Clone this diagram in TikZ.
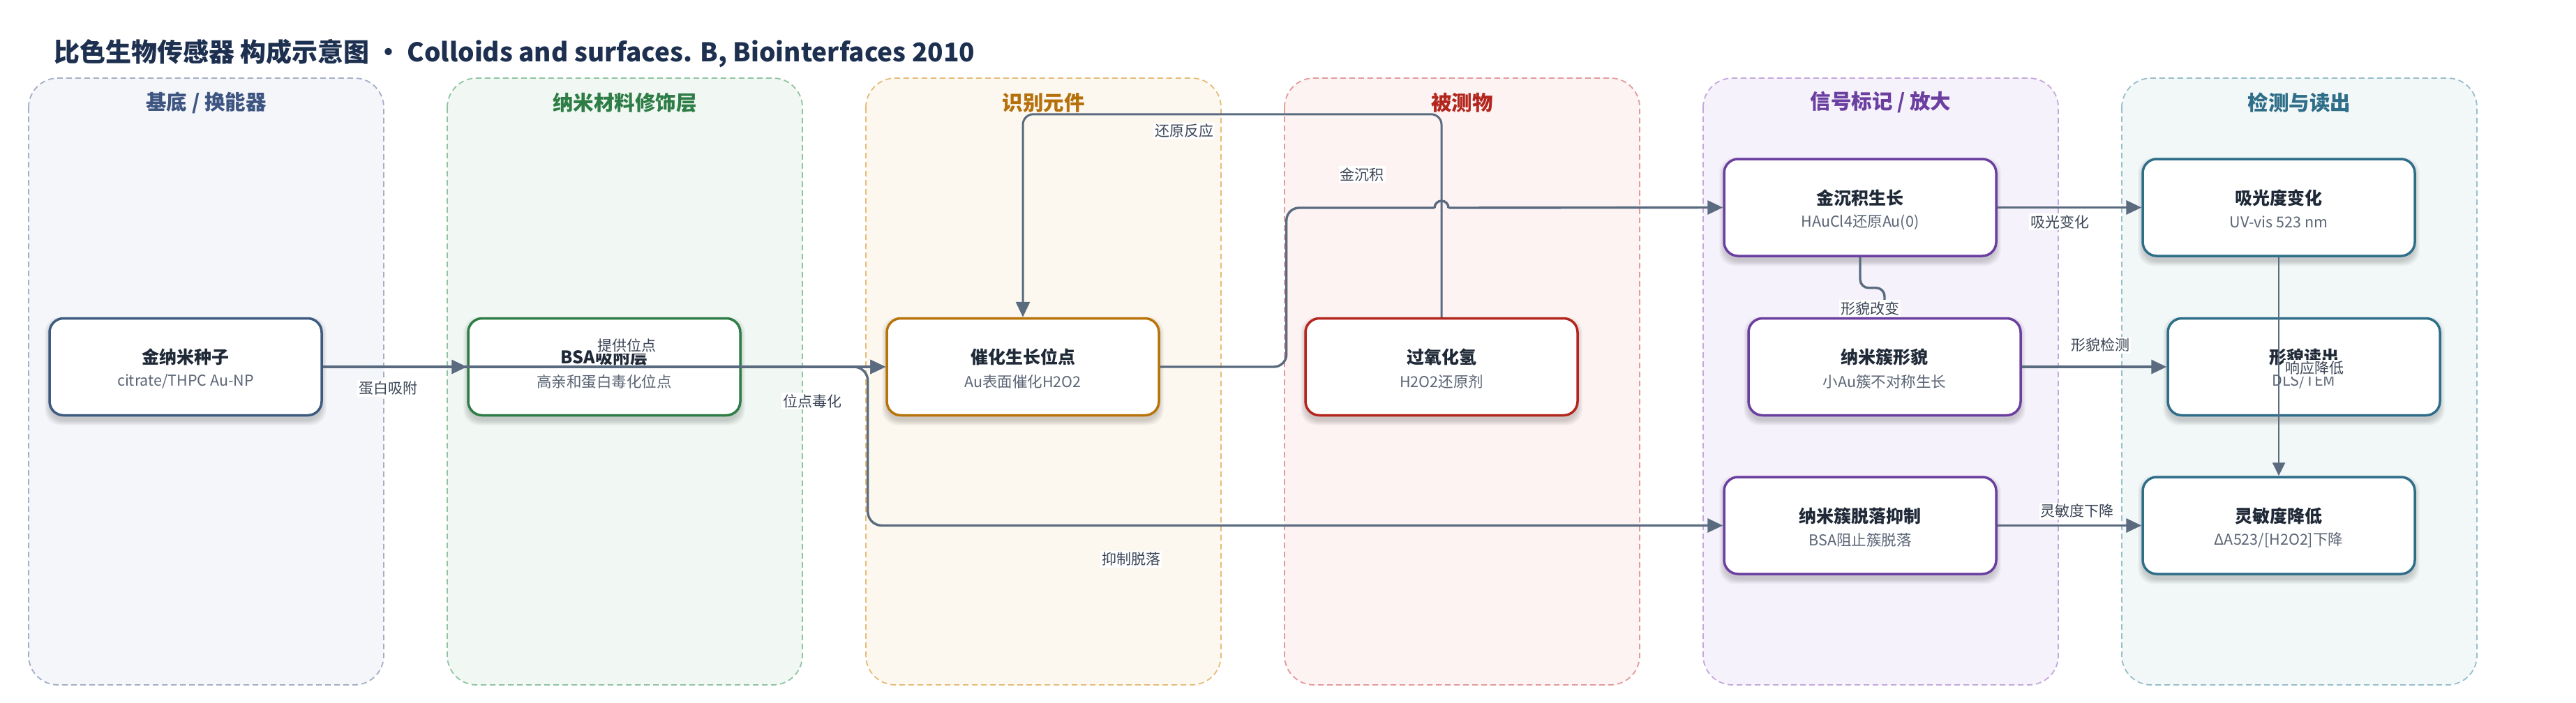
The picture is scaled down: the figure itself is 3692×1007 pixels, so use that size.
\documentclass[tikz,border=0pt]{standalone}
\usepackage{fontspec}
\setmainfont{Noto Sans CJK SC}
\usetikzlibrary{arrows.meta}
\definecolor{titlec}{HTML}{1E3050}
\definecolor{edgec}{HTML}{5A6B80}
\definecolor{lblc}{HTML}{3C4656}
\definecolor{ttlc}{HTML}{1F2937}
\definecolor{subc}{HTML}{5B6575}
\definecolor{laAfill}{HTML}{F4F6FA}\definecolor{laAline}{HTML}{A3AFC6}\definecolor{laAtext}{HTML}{3D5580}\definecolor{bxA}{HTML}{3D5A80}
\definecolor{laBfill}{HTML}{F1F8F3}\definecolor{laBline}{HTML}{90C4A0}\definecolor{laBtext}{HTML}{2E7D46}\definecolor{bxB}{HTML}{2E7D46}
\definecolor{laCfill}{HTML}{FDF8EF}\definecolor{laCline}{HTML}{E4BC78}\definecolor{laCtext}{HTML}{B5700C}\definecolor{bxC}{HTML}{B8730A}
\definecolor{laDfill}{HTML}{FDF3F3}\definecolor{laDline}{HTML}{E39A9A}\definecolor{laDtext}{HTML}{B3261E}\definecolor{bxD}{HTML}{B3261E}
\definecolor{laEfill}{HTML}{F6F2FB}\definecolor{laEline}{HTML}{C4A8DC}\definecolor{laEtext}{HTML}{6B3FA0}\definecolor{bxE}{HTML}{6B3FA0}
\definecolor{laFfill}{HTML}{F2F7F8}\definecolor{laFline}{HTML}{98BECC}\definecolor{laFtext}{HTML}{2F6E89}\definecolor{bxF}{HTML}{2F6E89}
\newcommand\mkbox[6]{%
  \foreach \k in {1,...,8}{\fill[black,opacity=0.025,rounded corners=22pt] (#2-194-\k,#3-64-\k) rectangle (#2+194+\k,#3+76+\k);}
  \node[procbox,draw=#4] (#1) at (#2,#3) {};
  \node[ttl] (#1t) at ([yshift=14pt]#1.center) {#5};
  \node[sub] (#1s) at ([yshift=-21pt]#1.center) {#6};
}
\newcommand\mklane[4]{% name, x-left, colour key, title
  \draw[lanebox,fill=la#3fill,draw=la#3line] (#2,112) rectangle (#2+509,982);
  \node[lanettl,text=la#3text] (#1) at (#2+254.5,147) {#4};
}
\begin{document}
\begin{tikzpicture}[x=1pt,y=-1pt,
  lanebox/.style={rounded corners=42pt,dash pattern=on 8pt off 5pt,line width=1.8pt},
  lanettl/.style={font=\bfseries\fontsize{29.5pt}{34pt}\selectfont,inner sep=0pt},
  procbox/.style={rectangle,fill=white,rounded corners=20pt,minimum width=390pt,minimum height=139pt,line width=3.5pt,inner sep=0pt},
  ttl/.style={font=\bfseries\fontsize{25pt}{30pt}\selectfont,text=ttlc,inner sep=0pt},
  sub/.style={font=\fontsize{21.5pt}{26pt}\selectfont,text=subc,inner sep=0pt},
  edge/.style={draw=edgec,line width=3.4pt},
  arr/.style={-{Triangle[length=22pt,width=20pt]}},
  lbl/.style={fill=white,inner sep=2pt,font=\fontsize{21pt}{25pt}\selectfont,text=lblc}]
\path[use as bounding box,fill=white] (0,0) rectangle (3692,1007);
\node[anchor=west,font=\bfseries\fontsize{37pt}{44pt}\selectfont,text=titlec,inner sep=0pt] (title) at (77,77) {比色生物传感器 构成示意图 · Colloids and surfaces. B, Biointerfaces 2010};
% lanes
\mklane{lane1}{41}{A}{基底 / 换能器}
\mklane{lane2}{641}{B}{纳米材料修饰层}
\mklane{lane3}{1241}{C}{识别元件}
\mklane{lane4}{1841}{D}{被测物}
\mklane{lane5}{2441}{E}{信号标记 / 放大}
\mklane{lane6}{3041}{F}{检测与读出}
% boxes
\mkbox{n1}{266}{526}{bxA}{金纳米种子}{citrate/THPC Au-NP}
\mkbox{n2}{866}{526}{bxB}{BSA吸附层}{高亲和蛋白毒化位点}
\mkbox{n3}{1466}{526}{bxC}{催化生长位点}{Au表面催化H2O2}
\mkbox{n4}{2066}{526}{bxD}{过氧化氢}{H2O2还原剂}
\mkbox{n5a}{2666}{297.5}{bxE}{金沉积生长}{HAuCl4还原Au(0)}
\mkbox{n5b}{2701}{526}{bxE}{纳米簇形貌}{小Au簇不对称生长}
\mkbox{n5c}{2666}{753.5}{bxE}{纳米簇脱落抑制}{BSA阻止簇脱落}
\mkbox{n6a}{3266}{297.5}{bxF}{吸光度变化}{UV-vis 523 nm}
\mkbox{n6b}{3302}{526}{bxF}{形貌读出}{DLS/TEM}
\mkbox{n6c}{3266}{753.5}{bxF}{灵敏度降低}{ΔA523/[H2O2]下降}
% connectors
\draw[edge,arr] (n1.east) -- (n2.west);
\draw[edge,arr] (n1.east) -- (n3.west);
\draw[edge,arr] (n2.east) -- (n3.west);
\draw[edge,arr,rounded corners=20pt] (n2.east) -- ++(181,0) |- (n5c.west);
\draw[edge,arr,rounded corners=15pt,line width=3pt] (n4.north) -- ++(0,-291) -| (n3.north);
\coordinate (hopL) at (2056,298);
\coordinate (hopR) at (2076,298);
\draw[edge,rounded corners=18pt] (n3.east) -- ++(181,0) |- (hopL);
\draw[edge] (hopL) arc[start angle=180,end angle=360,radius=10];
\draw[edge,arr] (hopR) -- (n5a.west);
\draw[edge,arr] (n5a.east) -- (n6a.west);
\draw[edge,arr,rounded corners=12pt] (n5a.south) -- ++(0,44) -| (n5b.north);
\draw[edge,arr] (n5b.east) -- (n6b.west);
\draw[edge,arr] (n5c.east) -- (n6c.west);
\draw[edge,-{Triangle[length=19pt,width=18pt]},line width=2.6pt] (n6a.south) -- (n6c.north);
% labels
\node[lbl] (l1) at (556,557) {蛋白吸附};
\node[lbl] (l2) at (898,495) {提供位点};
\node[lbl] (l3) at (1164,575) {位点毒化};
\node[lbl] (l4) at (1621,802) {抑制脱落};
\node[lbl] (l5) at (1697,188) {还原反应};
\node[lbl] (l6) at (1952,250) {金沉积};
\node[lbl] (l7) at (2952,318) {吸光变化};
\node[lbl] (l8) at (2680,442) {形貌改变};
\node[lbl] (l9) at (3010,495) {形貌检测};
\node[lbl] (l10) at (2977,733) {灵敏度下降};
\node[lbl] (l11) at (3317,528) {响应降低};
\end{tikzpicture}
\end{document}
